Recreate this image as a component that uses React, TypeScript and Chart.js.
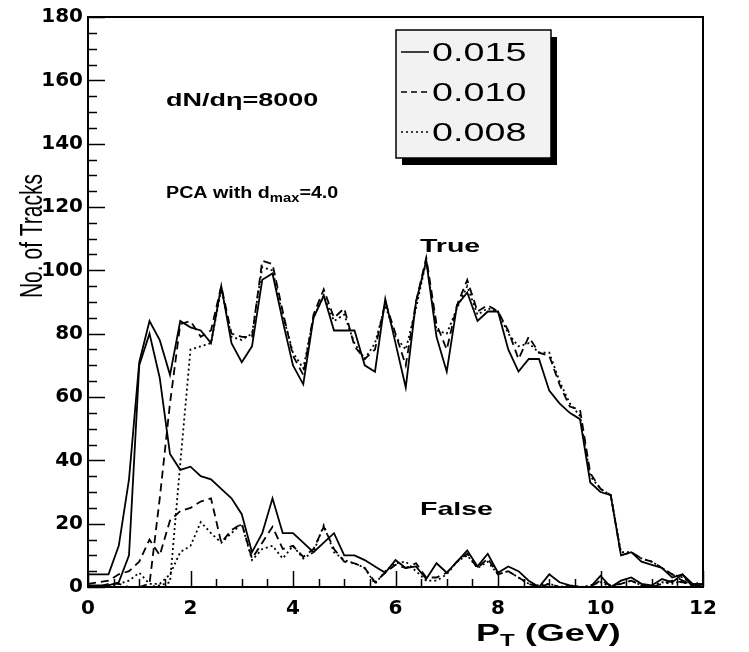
import React, { useEffect, useRef } from "react";
import { Chart, registerables } from "chart.js";

Chart.register(...registerables);

// Transverse momentum bins (GeV)
const PT = [
  0, 0.2, 0.4, 0.6, 0.8, 1, 1.2, 1.4, 1.6, 1.8,
  2, 2.2, 2.4, 2.6, 2.8, 3, 3.2, 3.4, 3.6, 3.8,
  4, 4.2, 4.4, 4.6, 4.8, 5, 5.2, 5.4, 5.6, 5.8,
  6, 6.2, 6.4, 6.6, 6.8, 7, 7.2, 7.4, 7.6, 7.8,
  8, 8.2, 8.4, 8.6, 8.8, 9, 9.2, 9.4, 9.6, 9.8,
  10, 10.2, 10.4, 10.6, 10.8, 11, 11.2, 11.4, 11.6, 11.8, 12,
];

// True tracks
const TRUE_015 = [
  4, 4, 4, 13, 34, 71, 84, 78, 67, 84,
  82, 81, 77, 95, 77, 71, 76, 97, 99, 84,
  70, 64, 85, 92, 81, 81, 81, 70, 68, 91,
  77, 63, 90, 103, 79, 68, 89, 93, 84, 87,
  87, 75, 68, 72, 72, 62, 58, 55, 53, 33,
  30, 29, 10, 11, 8, 7, 6, 3, 4, 0, 1,
];
const TRUE_010 = [
  0, 0, 1, 1, 0, 0, 1, 28, 58, 83,
  84, 79, 81, 95, 80, 79, 79, 103, 102, 87,
  73, 67, 86, 94, 85, 88, 76, 72, 75, 90,
  80, 70, 90, 104, 83, 75, 89, 97, 87, 89,
  87, 81, 72, 79, 74, 73, 64, 57, 56, 36,
  31, 29, 10, 11, 9, 8, 6, 4, 2, 1, 1,
];
const TRUE_008 = [
  0, 0, 0, 0, 0, 0, 0, 0.5, 1.5, 39,
  75, 76, 77, 94, 79, 78, 80, 101, 100, 86,
  74, 69, 85, 92, 84, 86, 77, 72, 77, 89,
  79, 75, 88, 103, 81, 80, 88, 95, 86, 88,
  87, 80, 76, 77, 74, 74, 65, 58, 54, 35,
  31, 29, 11, 11, 9, 8, 6, 4, 3, 1, 1,
];

// False tracks
const FALSE_015 = [
  0.5, 0.5, 0.5, 1.5, 10, 70, 80, 66, 42, 37,
  38, 35, 34, 31, 28, 23, 11, 17, 28, 17,
  17, 14, 11, 14, 17, 10, 10, 8.5, 6.5, 4.5,
  8.5, 6, 6.5, 2.5, 7.5, 4.5, 8, 11.5, 6.5, 10.5,
  4.5, 6.5, 5, 2, 0, 4, 1.5, 0.5, 0, 0,
  3.5, 0, 2, 3, 1, 0.5, 2.5, 1.5, 4, 1, 0,
];
const FALSE_010 = [
  1, 1.5, 2, 4, 5, 8, 15, 10, 21, 24,
  25, 27, 28, 14, 18, 20, 9, 14, 19, 12,
  13, 9.5, 12, 19, 12, 8, 7.5, 6, 1.5, 4.5,
  7, 6, 7.5, 3, 3, 4.5, 8, 10.5, 6, 9,
  4, 5, 3, 1, 0, 1, 0, 0, 0, 0,
  2, 0.5, 1, 2, 0.5, 0, 1, 2, 1.5, 0.5, 2,
];
const FALSE_008 = [
  0, 0, 0.5, 1, 2, 4.5, 1, 1, 4, 11,
  13, 20.5, 17, 14, 17, 20, 8.5, 12, 13, 9,
  13, 9, 11, 19.5, 11, 8.5, 7.5, 6, 1, 5,
  7.5, 8, 5, 2, 2, 4, 8, 10, 6, 8,
  4, 5, 3, 1, 0.5, 1, 0, 0.5, 0, 0.5,
  1.5, 0, 1, 2, 0.5, 0.5, 1.5, 1, 2, 0.5, 1,
];

const LEGEND_LABELS = ["0.015", "0.010", "0.008"];
const X_TITLE = ["P", "T", " (GeV)"];
const Y_TITLE = "No. of Tracks";
const MULT_TEXT = "dN/d\u03b7=8000";
const PCA_TEXT = ["PCA with d", "max", "=4.0"];
const TRUE_TEXT = "True";
const FALSE_TEXT = "False";

const SANS = '"Liberation Sans", Arial, Helvetica, sans-serif';
const SX = 1.5;

const DASH_SOLID: number[] = [];
const DASH_DASHED = [8, 5];
const DASH_DOTTED = [2, 3];

type Seg = { t: string; font: string; dy?: number };

function drawRich(ctx: CanvasRenderingContext2D, segs: Seg[], x: number, y: number, sx: number) {
  let cx = x;
  for (const s of segs) {
    ctx.font = s.font;
    ctx.save();
    ctx.translate(cx, y + (s.dy || 0));
    ctx.scale(sx, 1);
    ctx.textAlign = "left";
    ctx.textBaseline = "alphabetic";
    ctx.fillText(s.t, 0, 0);
    ctx.restore();
    cx += ctx.measureText(s.t).width * sx;
  }
}

const decor = {
  id: "decor",
  afterDraw(chart: any) {
    const { ctx, chartArea: a, scales } = chart;
    const xs = scales.x;
    const ys = scales.y;
    ctx.save();
    ctx.strokeStyle = "#000";
    ctx.fillStyle = "#000";
    ctx.setLineDash([]);

    // frame
    ctx.lineWidth = 2;
    ctx.strokeRect(a.left, a.top, a.right - a.left, a.bottom - a.top);

    // inward ticks
    ctx.lineWidth = 1.5;
    for (let v = 0; v <= 180; v += 5) {
      const py = Math.round(ys.getPixelForValue(v)) + 0.5;
      const len = v % 20 === 0 ? 17 : 9;
      ctx.beginPath();
      ctx.moveTo(a.left, py);
      ctx.lineTo(a.left + len, py);
      ctx.stroke();
    }
    for (let v = 0; v <= 12; v += 0.5) {
      const px = Math.round(xs.getPixelForValue(v)) + 0.5;
      const len = v % 2 === 0 ? 16 : 8;
      ctx.beginPath();
      ctx.moveTo(px, a.bottom);
      ctx.lineTo(px, a.bottom - len);
      ctx.stroke();
    }

    // annotations
    drawRich(ctx, [{ t: MULT_TEXT, font: `bold 18px ${SANS}` }], 166, 106, SX);
    drawRich(
      ctx,
      [
        { t: PCA_TEXT[0], font: `bold 16px ${SANS}` },
        { t: PCA_TEXT[1], font: `bold 12px ${SANS}`, dy: 4 },
        { t: PCA_TEXT[2], font: `bold 16px ${SANS}` },
      ],
      166,
      198,
      1.23
    );
    drawRich(ctx, [{ t: TRUE_TEXT, font: `bold 19px ${SANS}` }], 420, 252, SX);
    drawRich(ctx, [{ t: FALSE_TEXT, font: `bold 19px ${SANS}` }], 420, 515, SX);

    // x title
    drawRich(
      ctx,
      [
        { t: X_TITLE[0], font: `bold 24px ${SANS}` },
        { t: X_TITLE[1], font: `bold 16px ${SANS}`, dy: 5 },
        { t: X_TITLE[2], font: `bold 24px ${SANS}` },
      ],
      476,
      641,
      SX
    );

    // y title (rotated)
    ctx.save();
    ctx.translate(42, 236);
    ctx.rotate(-Math.PI / 2);
    ctx.scale(1, SX);
    ctx.font = `21px ${SANS}`;
    ctx.textAlign = "center";
    ctx.textBaseline = "alphabetic";
    ctx.fillText(Y_TITLE, 0, 0);
    ctx.restore();

    // legend box
    const bx = 396, by = 30, bw = 155, bh = 128;
    ctx.fillStyle = "#000";
    ctx.fillRect(bx + 6, by + 7, bw, bh);
    ctx.fillStyle = "#f2f2f2";
    ctx.fillRect(bx, by, bw, bh);
    ctx.lineWidth = 1.5;
    ctx.strokeRect(bx, by, bw, bh);
    ctx.fillStyle = "#000";
    const dashes = [DASH_SOLID, [6, 4], [2, 3]];
    LEGEND_LABELS.forEach((lab, i) => {
      const cy = 52 + i * 40;
      ctx.save();
      ctx.lineWidth = 1.5;
      ctx.setLineDash(dashes[i]);
      ctx.beginPath();
      ctx.moveTo(401, cy);
      ctx.lineTo(429, cy);
      ctx.stroke();
      ctx.restore();
      drawRich(ctx, [{ t: lab, font: `26px ${SANS}` }], 432, cy + 9, 1.45);
    });

    ctx.restore();
  },
};

function series(vals: number[], dash: number[]) {
  return {
    data: PT.map((x, i) => ({ x, y: vals[i] })),
    borderColor: "#000",
    borderWidth: 1.8,
    borderDash: dash,
    pointRadius: 0,
    tension: 0,
    fill: false,
  };
}

export default function App() {
  const ref = useRef<HTMLCanvasElement | null>(null);
  useEffect(() => {
    if (!ref.current) return;
    const tickFont = { family: '"DejaVu Sans", sans-serif', weight: "bold" as const, size: 20 };
    const chart = new Chart(ref.current, {
      type: "line",
      data: {
        datasets: [
          series(TRUE_015, DASH_SOLID),
          series(TRUE_010, DASH_DASHED),
          series(TRUE_008, DASH_DOTTED),
          series(FALSE_015, DASH_SOLID),
          series(FALSE_010, DASH_DASHED),
          series(FALSE_008, DASH_DOTTED),
        ],
      },
      options: {
        animation: false,
        responsive: false,
        devicePixelRatio: 1,
        layout: { padding: { top: 15, right: 46, left: 0, bottom: 0 } },
        plugins: { legend: { display: false }, tooltip: { enabled: false } },
        scales: {
          x: {
            type: "linear",
            min: 0,
            max: 12,
            ticks: { stepSize: 2, color: "#000", font: tickFont, padding: 10, maxRotation: 0, autoSkip: false },
            grid: { display: false, drawTicks: false },
            border: { display: false },
            afterFit: (s: any) => {
              s.height = 65;
            },
          },
          y: {
            type: "linear",
            min: 0,
            max: 180,
            ticks: { stepSize: 20, color: "#000", font: tickFont, padding: 5 },
            grid: { display: false, drawTicks: false },
            border: { display: false },
            afterFit: (s: any) => {
              s.width = 88;
            },
          },
        },
      },
      plugins: [decor],
    });
    return () => chart.destroy();
  }, []);
  return (
    <div style={{ position: "fixed", left: 0, top: 0, width: 749, height: 652, background: "#fff" }}>
      <canvas ref={ref} width={749} height={652} style={{ display: "block" }} />
    </div>
  );
}
